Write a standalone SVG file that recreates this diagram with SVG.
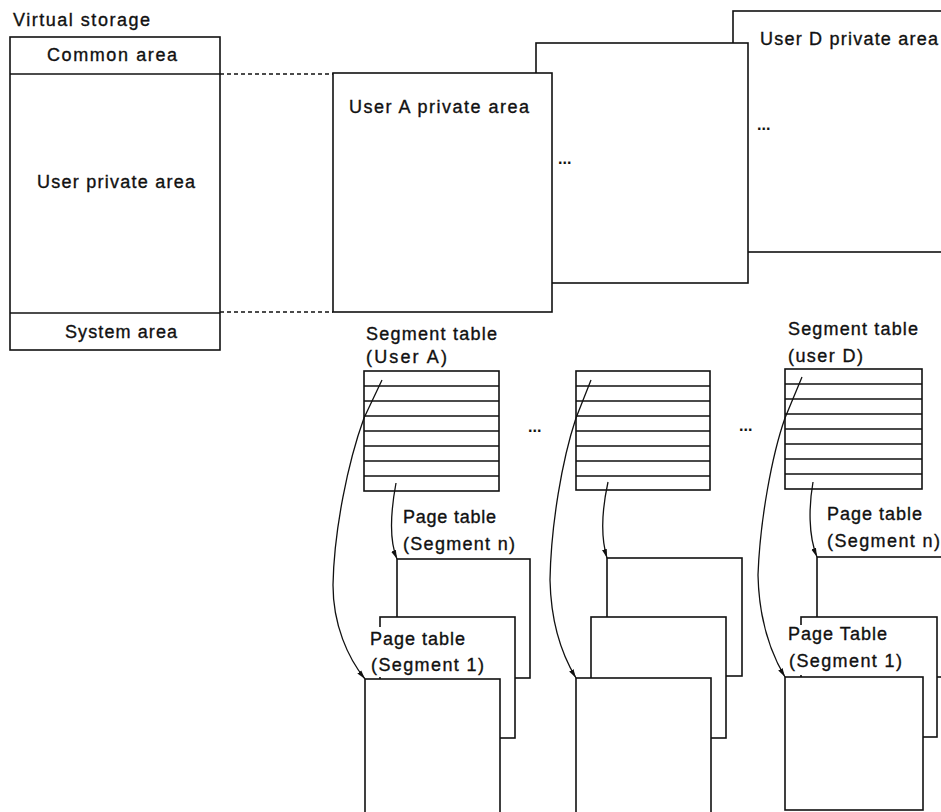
<svg xmlns="http://www.w3.org/2000/svg" width="941" height="812" viewBox="0 0 941 812">
<style>
.b{fill:#fff;stroke:#111;stroke-width:1.6}
.l{fill:none;stroke:#111;stroke-width:1.6}
.d{fill:none;stroke:#111;stroke-width:1.3;stroke-dasharray:4 3}
.c{fill:none;stroke:#111;stroke-width:1.3}
.t{font-family:"Liberation Sans",Arial,sans-serif;font-size:18px;fill:#111;stroke:#111;stroke-width:0.35}
.e{font-family:"Liberation Sans",Arial,sans-serif;font-size:16px;font-weight:bold;fill:#111}
.w{fill:#fff;stroke:none}
</style>
<defs>
<marker id="ah" markerWidth="10" markerHeight="8" refX="9" refY="4" orient="auto" markerUnits="userSpaceOnUse">
<path d="M0,1.5 L9,4 L0,6.5 Z" fill="#111"/>
</marker>
</defs>
<rect width="941" height="812" fill="#fff"/>

<g id="virtual-storage">
<text class="t" x="13" y="26" textLength="137">Virtual storage</text>
<rect class="b" x="10" y="37" width="210" height="313"/>
<line class="l" x1="10" y1="74" x2="220" y2="74"/>
<line class="l" x1="10" y1="313" x2="220" y2="313"/>
<text class="t" x="47" y="61" textLength="130">Common area</text>
<text class="t" x="37" y="188" textLength="158">User private area</text>
<text class="t" x="65" y="338" textLength="112">System area</text>
</g>

<g id="user-d-area">
<rect class="b" x="733" y="11" width="230" height="241"/>
<text class="t" x="760" y="45" textLength="178">User  D private area</text>
</g>
<g id="user-b-area">
<rect class="b" x="536" y="43" width="212" height="240"/>
<text class="e" x="757" y="130">...</text>
</g>
<g id="user-a-area">
<rect class="b" x="333" y="73" width="219" height="239"/>
<text class="t" x="349" y="113" textLength="180">User A private area</text>
<text class="e" x="558" y="164">...</text>
</g>

<g id="segment-table-a">
<text class="t" x="366" y="340" textLength="131">Segment table</text>
<text class="t" x="366" y="363" textLength="81">(User A)</text>
<rect class="b" x="364" y="371" width="135" height="120"/>
<path class="l" d="M364,386H499M364,401H499M364,416H499M364,431H499M364,446H499M364,461H499M364,476H499"/>
<text class="e" x="528" y="432">...</text>
</g>
<g id="segment-table-b">
<rect class="b" x="576" y="371" width="134" height="119"/>
<path class="l" d="M576,386H710M576,401H710M576,416H710M576,431H710M576,446H710M576,461H710M576,476H710"/>
<text class="e" x="739" y="431">...</text>
</g>
<g id="segment-table-d">
<text class="t" x="788" y="335" textLength="130">Segment table</text>
<text class="t" x="788" y="362" textLength="75">(user D)</text>
<rect class="b" x="785" y="369" width="137" height="120"/>
<path class="l" d="M785,384H922M785,399H922M785,414H922M785,429H922M785,444H922M785,459H922M785,474H922"/>
</g>

<g id="page-tables-a">
<text class="t" x="403" y="523" textLength="93">Page table</text>
<text class="t" x="403" y="550" textLength="112">(Segment n)</text>
<rect class="b" x="397" y="559" width="133" height="119"/>
<rect class="b" x="380" y="617" width="135" height="121"/>
<rect class="w" x="368" y="627" width="120" height="50"/>
<text class="t" x="370" y="645" textLength="95">Page table</text>
<text class="t" x="371" y="671" textLength="113">(Segment 1)</text>
<rect class="b" x="365" y="679" width="135" height="150"/>
</g>
<g id="page-tables-b">
<rect class="b" x="607" y="558" width="135" height="118"/>
<rect class="b" x="591" y="617" width="135" height="121"/>
<rect class="b" x="576" y="678" width="135" height="150"/>
</g>
<g id="page-tables-d">
<text class="t" x="827" y="520" textLength="95">Page table</text>
<text class="t" x="827" y="547" textLength="113">(Segment n)</text>
<rect class="b" x="817" y="557" width="150" height="120"/>
<rect class="b" x="801" y="617" width="136" height="120"/>
<rect class="w" x="789" y="625" width="120" height="50"/>
<text class="t" x="788" y="640" textLength="99">Page Table</text>
<text class="t" x="789" y="667" textLength="113">(Segment 1)</text>
<rect class="b" x="785" y="677" width="138" height="133"/>
</g>

<g id="connectors">
<line class="d" x1="220" y1="74" x2="333" y2="74"/>
<line class="d" x1="220" y1="312" x2="333" y2="312"/>
<path class="c" d="M382,380 L364,418 C348,462 334,530 333,585 C333,625 348,658 365,679" marker-end="url(#ah)"/>
<path class="c" d="M396,483 C391,510 389,540 397,559" marker-end="url(#ah)"/>
<path class="c" d="M591,380 L576,418 C562,460 551,525 550,580 C551,625 562,655 576,678" marker-end="url(#ah)"/>
<path class="c" d="M608,482 C603,505 600,535 607,558" marker-end="url(#ah)"/>
<path class="c" d="M802,377 L785,418 C772,455 760,520 758,575 C759,620 770,652 785,677" marker-end="url(#ah)"/>
<path class="c" d="M813,482 C809,505 808,535 817,557" marker-end="url(#ah)"/>
</g>
</svg>
